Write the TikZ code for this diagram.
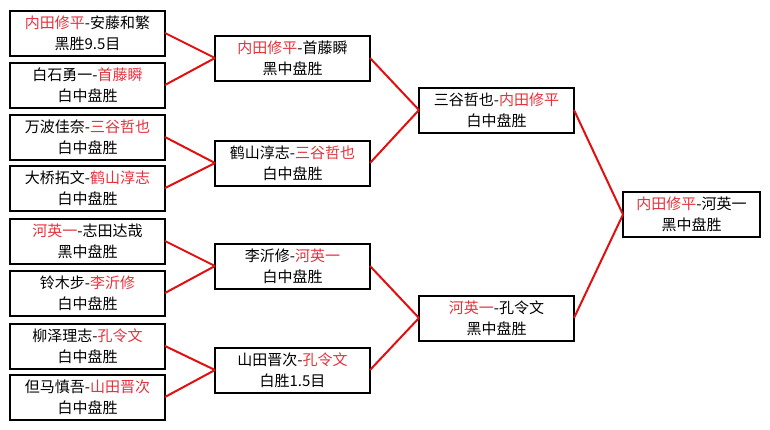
\documentclass[tikz,border=0pt]{standalone}
\usepackage{fontspec}
\newfontfamily\cjk{Noto Sans CJK SC}
\definecolor{tred}{RGB}{230,50,60}
\definecolor{lred}{RGB}{225,15,15}
\newcommand\redt[1]{\textcolor{tred}{#1}}
\begin{document}
\begin{tikzpicture}[x=0.75pt,y=-0.75pt,
 match/.style={draw=black,line width=1.5pt,fill=white,minimum width=116.25pt,minimum height=33.75pt,inner sep=0pt,outer sep=0pt,align=center,font=\cjk\fontsize{11.25pt}{15.75pt}\selectfont},
 final/.style={match,minimum width=102.75pt},
 link/.style={draw=lred,line width=1.5pt}]
\useasboundingbox (0,0) rectangle (770,429);
% round 1
\node[match] (a1) at (87.5,33)  {\redt{内田修平}-安藤和繁\\黑胜9.5目};
\node[match] (a2) at (87.5,85)  {白石勇一-\redt{首藤瞬}\\白中盘胜};
\node[match] (a3) at (87.5,137) {万波佳奈-\redt{三谷哲也}\\白中盘胜};
\node[match] (a4) at (87.5,188) {大桥拓文-\redt{鹤山淳志}\\白中盘胜};
\node[match] (a5) at (87.5,241) {\redt{河英一}-志田达哉\\黑中盘胜};
\node[match] (a6) at (87.5,293) {铃木步-\redt{李沂修}\\白中盘胜};
\node[match] (a7) at (87.5,346) {柳泽理志-\redt{孔令文}\\白中盘胜};
\node[match] (a8) at (87.5,397) {但马慎吾-\redt{山田晋次}\\白中盘胜};
% round 2
\node[match] (b1) at (292.5,58)  {\redt{内田修平}-首藤瞬\\黑中盘胜};
\node[match] (b2) at (292.5,163) {鹤山淳志-\redt{三谷哲也}\\白中盘胜};
\node[match] (b3) at (292.5,266) {李沂修-\redt{河英一}\\白中盘胜};
\node[match] (b4) at (292.5,370) {山田晋次-\redt{孔令文}\\白胜1.5目};
% round 3
\node[match] (c1) at (496.5,110) {三谷哲也-\redt{内田修平}\\白中盘胜};
\node[match] (c2) at (496.5,318) {\redt{河英一}-孔令文\\黑中盘胜};
% final
\node[final] (d) at (691.5,214.5) {\redt{内田修平}-河英一\\黑中盘胜};
% connectors
\draw[link] (a1.east) -- (b1.west);
\draw[link] (a2.east) -- (b1.west);
\draw[link] (a3.east) -- (b2.west);
\draw[link] (a4.east) -- (b2.west);
\draw[link] (a5.east) -- (b3.west);
\draw[link] (a6.east) -- (b3.west);
\draw[link] (a7.east) -- (b4.west);
\draw[link] (a8.east) -- (b4.west);
\draw[link] (b1.east) -- (c1.west);
\draw[link] (b2.east) -- (c1.west);
\draw[link] (b3.east) -- (c2.west);
\draw[link] (b4.east) -- (c2.west);
\draw[link] (c1.east) -- (d.west);
\draw[link] (c2.east) -- (d.west);
\end{tikzpicture}
\end{document}
